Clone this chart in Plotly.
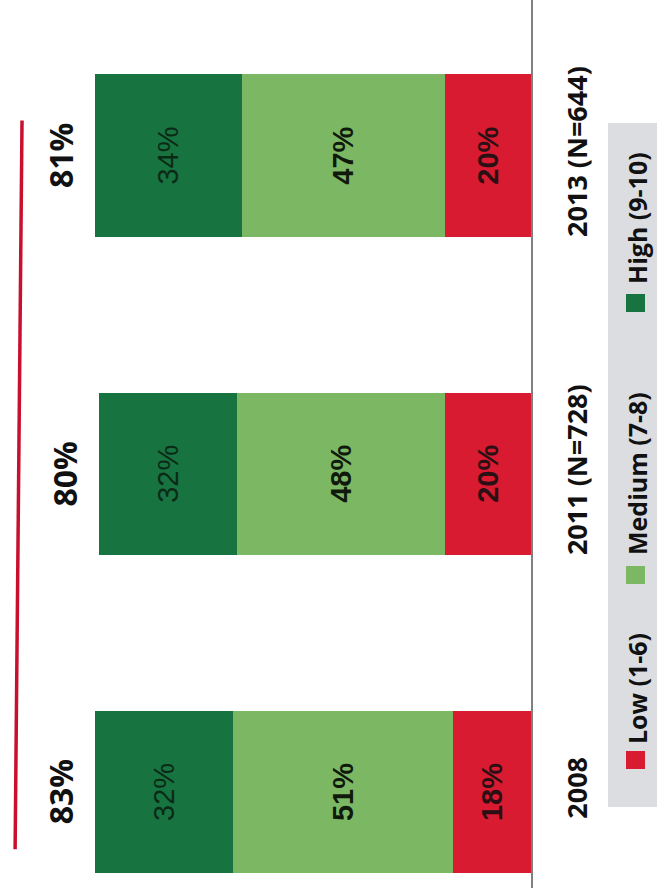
import plotly.graph_objects as go

# ---- data ----
categories = ["2008", "2011 (N=728)", "2013 (N=644)"]
low = [18, 20, 20]
medium = [51, 48, 47]
high = [32, 32, 34]
totals = [83, 80, 81]          # Medium + High
series_names = ["Low (1-6)", "Medium (7-8)", "High (9-10)"]
colors = ["#d81b30", "#7cb864", "#17733f"]

W, H = 657, 888
PLOT_W = 531  # plot area width (margin right = W - PLOT_W)
BOLD = "Open Sans"

def px_x(px):
    return px / PLOT_W

def px_y(py):
    return 1 - py / H

fig = go.Figure()
vals = [low, medium, high]
text_colors = ["#2a1014", "#101a0c", "#0b2a16"]
weights = ["bold", "bold", "normal"]
for name, v, c, tc, w in zip(series_names, vals, colors, text_colors, weights):
    fig.add_trace(go.Bar(
        y=categories, x=v, name=name, orientation="h",
        marker=dict(color=c, line=dict(width=0)),
        text=[f"{val}%" for val in v], textposition="inside",
        insidetextanchor="middle", textangle=-90, constraintext="none",
        textfont=dict(family="Liberation Sans, Arial", size=29, color=tc, weight=w),
        showlegend=False,
    ))

annotations = []
# totals above the stacks
for i, (l, m, h_, t) in enumerate(zip(low, medium, high, totals)):
    annotations.append(dict(
        x=l + m + h_ + 8.0, y=i, xref="x", yref="y", text=f"<b>{t}%</b>",
        showarrow=False, textangle=-90, xanchor="center", yanchor="middle",
        font=dict(family=BOLD, size=32, color="#111111"),
    ))

shapes = []
# trend line
shapes.append(dict(type="line", xref="x", yref="y", x0=119.5, y0=-0.18, x1=117.9, y1=2.11,
                   line=dict(color="#c8102e", width=3.5)))
# legend background
shapes.append(dict(type="rect", xref="paper", yref="paper",
                   x0=px_x(608), x1=px_x(660), y0=px_y(807), y1=px_y(123),
                   fillcolor="#dcdde1", line=dict(width=0), layer="below"))
sq_centers = [760, 575, 303]
txt_centers = [689, 474, 218]
for name, c, sc, tc in zip(series_names, colors, sq_centers, txt_centers):
    shapes.append(dict(type="rect", xref="paper", yref="paper",
                       x0=px_x(626), x1=px_x(645), y0=px_y(sc + 9), y1=px_y(sc - 9),
                       fillcolor=c, line=dict(width=0)))
    annotations.append(dict(
        x=px_x(637), y=px_y(tc), xref="paper", yref="paper", text=f"<b>{name}</b>",
        showarrow=False, textangle=-90, xanchor="center", yanchor="middle",
        font=dict(family=BOLD, size=25, color="#111111"),
    ))

fig.update_layout(
    barmode="stack",
    bargap=0.49,
    width=W, height=H,
    margin=dict(l=0, r=W - PLOT_W, t=0, b=0),
    paper_bgcolor="white", plot_bgcolor="white",
    xaxis=dict(range=[123, 0], showgrid=False, zeroline=False, showticklabels=False,
               showline=False, fixedrange=True),
    yaxis=dict(type="category", side="right", range=[-0.302, 2.489], showgrid=False,
               zeroline=False, showline=True, linecolor="#808080", linewidth=1.5,
               tickangle=-90, ticks="", ticklabelstandoff=22,
               tickvals=categories, ticktext=[f"<b>{c}</b>" for c in categories],
               tickfont=dict(family=BOLD, size=27, color="#111111")),
    annotations=annotations,
    shapes=shapes,
)

fig.write_html("out.html")
